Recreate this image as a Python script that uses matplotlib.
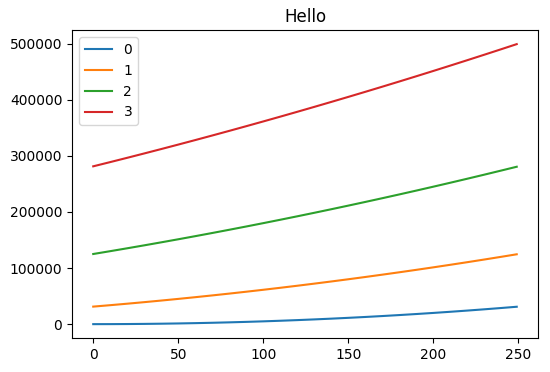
'''
Four rising curves with a legend, titled "Hello"
'''

import matplotlib
matplotlib.use("Agg")
import matplotlib.pyplot as plt

#########################################

# sample positions along the x axis
xVals = [0, 10, 20, 30, 40, 50, 60, 70, 80, 90, 100, 110, 120, 130,
         140, 150, 160, 170, 180, 190, 200, 210, 220, 230, 240, 249]

series0 = [0, 50, 200, 450, 800, 1250, 1800, 2450, 3200, 4050, 5000, 6050, 7200,
           8450, 9800, 11250, 12800, 14450, 16200, 18050, 20000, 22050, 24200,
           26450, 28800, 31000]
series1 = [31250, 33800, 36450, 39200, 42050, 45000, 48050, 51200, 54450, 57800,
           61250, 64800, 68450, 72200, 76050, 80000, 84050, 88200, 92450, 96800,
           101250, 105800, 110450, 115200, 120050, 124500]
series2 = [125000, 130050, 135200, 140450, 145800, 151250, 156800, 162450, 168200,
           174050, 180000, 186050, 192200, 198450, 204800, 211250, 217800, 224450,
           231200, 238050, 245000, 252050, 259200, 266450, 273800, 280500]
series3 = [281250, 288800, 296450, 304200, 312050, 320000, 328050, 336200, 344450,
           352800, 361250, 369800, 378450, 387200, 396050, 405000, 414050, 423200,
           432450, 441800, 451250, 460800, 470450, 480200, 490050, 499000]

labels = ["0", "1", "2", "3"]

#########################################

fig = plt.figure(figsize=(5.5, 3.72), dpi=100)
ax = fig.add_axes([0.131, 0.091, 0.847, 0.828])

for lab, ys in zip(labels, [series0, series1, series2, series3]):
  ax.plot(xVals, ys, label=lab)

ax.set_title("Hello")
ax.legend(loc="upper left")

fig.savefig("out.png", dpi=100)
